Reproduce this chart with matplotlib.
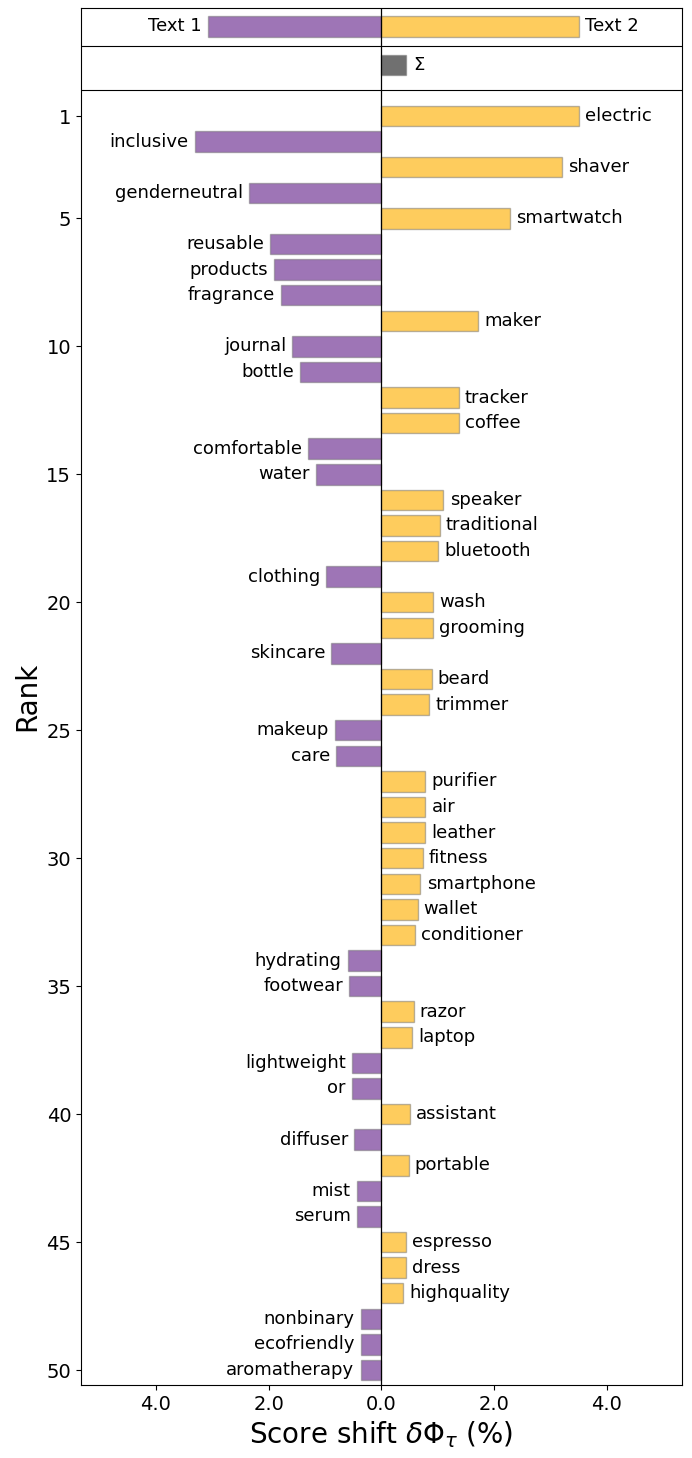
import matplotlib as mat
mat.use('Agg')
import matplotlib.pyplot as plt

# word shift data, rank order (negative = Text 1 side)
words = ["electric", "inclusive", "shaver", "genderneutral", "smartwatch",
         "reusable", "products", "fragrance", "maker", "journal",
         "bottle", "tracker", "coffee", "comfortable", "water",
         "speaker", "traditional", "bluetooth", "clothing", "wash",
         "grooming", "skincare", "beard", "trimmer", "makeup",
         "care", "purifier", "air", "leather", "fitness",
         "smartphone", "wallet", "conditioner", "hydrating", "footwear",
         "razor", "laptop", "lightweight", "or", "assistant",
         "diffuser", "portable", "mist", "serum", "espresso",
         "dress", "highquality", "nonbinary", "ecofriendly", "aromatherapy"]
shifts = [3.50, -3.31, 3.20, -2.35, 2.28,
          -1.97, -1.90, -1.78, 1.71, -1.58,
          -1.44, 1.37, 1.37, -1.30, -1.17,
          1.10, 1.03, 1.00, -0.98, 0.92,
          0.91, -0.89, 0.89, 0.85, -0.82,
          -0.80, 0.78, 0.78, 0.78, 0.73,
          0.69, 0.64, 0.60, -0.60, -0.57,
          0.57, 0.55, -0.52, -0.52, 0.50,
          -0.48, 0.48, -0.44, -0.43, 0.43,
          0.43, 0.39, -0.37, -0.37, -0.37]
total_text1 = -3.08
total_text2 = 3.50
total_sum = 0.43

purple = "#9e75b6"
yellow = "#fecc5d"
grey = "#707070"
edge = (0.45, 0.45, 0.45, 0.5)

fig = plt.figure(figsize=(6.92, 14.58), dpi=100)
ax = fig.add_axes([0.117, 0.05, 0.8685, 0.9445])

ranks = list(range(1, len(words) + 1))
colors = [yellow if s > 0 else purple for s in shifts]
ax.barh(ranks, shifts, height=0.8, color=colors, edgecolor=edge, linewidth=1.0)
for r, w, s in zip(ranks, words, shifts):
    if s > 0:
        ax.text(s + 0.11, r, w, ha="left", va="center", fontsize=13)
    else:
        ax.text(s - 0.11, r, w, ha="right", va="center", fontsize=13)

# totals
ax.barh([-2.5], [total_text1], height=0.8, color=purple, edgecolor=edge, linewidth=1.0)
ax.barh([-2.5], [total_text2], height=0.8, color=yellow, edgecolor=edge, linewidth=1.0)
ax.barh([-1.0], [total_sum], height=0.8, color=grey, edgecolor=edge, linewidth=1.0)
ax.text(total_text1 - 0.11, -2.5, "Text 1", ha="right", va="center", fontsize=13)
ax.text(total_text2 + 0.11, -2.5, "Text 2", ha="left", va="center", fontsize=13)
ax.text(total_sum + 0.13, -1.0, "Σ", ha="left", va="center", fontsize=13)

ax.axhline(-1.75, color="black", linewidth=0.8)
ax.axhline(0.0, color="black", linewidth=0.8)
ax.axvline(0, color="black", linewidth=0.9)

ax.set_xlim(-5.33, 5.33)
ax.set_ylim(50.59, -3.22)
ax.set_yticks([1, 5, 10, 15, 20, 25, 30, 35, 40, 45, 50])
ax.set_xticks([-4, -2, 0, 2, 4])
ax.set_xticklabels(["4.0", "2.0", "0.0", "2.0", "4.0"])
ax.tick_params(labelsize=14)
ax.set_ylabel("Rank", fontsize=20)
ax.set_xlabel(r"Score shift $\delta \Phi_{\tau}$ (%)", fontsize=20)

plt.savefig("out.png", dpi=100)
